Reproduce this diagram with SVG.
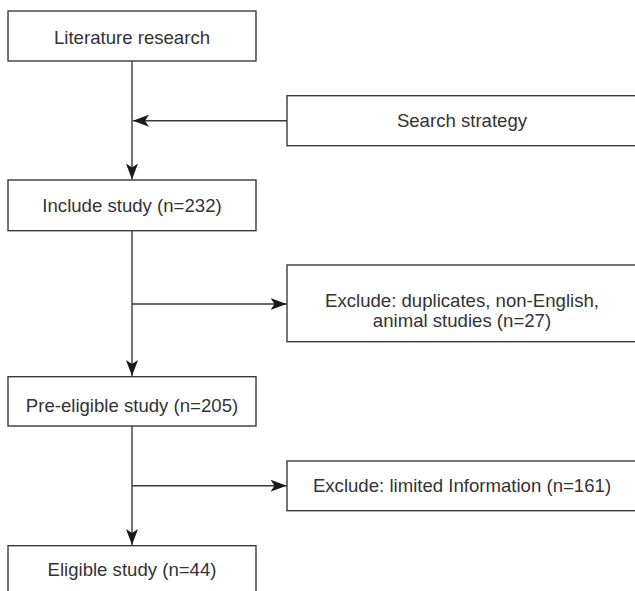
<svg xmlns="http://www.w3.org/2000/svg" width="635" height="591" viewBox="0 0 635 591">
<style>
.box{fill:#fff;stroke:#3a3a3a;stroke-width:1.4}
.t{font-family:"Liberation Sans",Arial,sans-serif;font-size:18.6px;fill:#333;text-anchor:middle}
.ln{fill:none;stroke:#3a3a3a;stroke-width:1.4}
</style>
<defs>
<marker id="ah" markerUnits="userSpaceOnUse" markerWidth="17" markerHeight="12" refX="16" refY="6" orient="auto">
<path d="M0,0 L16,6 L0,12 L4,6 Z" fill="#1a1a1a"/>
</marker>
</defs>
<rect width="635" height="591" fill="#fff"/>
<g id="connectors">
<line class="ln" x1="132" y1="61" x2="132" y2="179.5" marker-end="url(#ah)"/>
<line class="ln" x1="287" y1="120.7" x2="133" y2="120.7" marker-end="url(#ah)"/>
<line class="ln" x1="132" y1="230.7" x2="132" y2="376" marker-end="url(#ah)"/>
<line class="ln" x1="132" y1="304" x2="286.5" y2="304" marker-end="url(#ah)"/>
<line class="ln" x1="132" y1="426" x2="132" y2="545" marker-end="url(#ah)"/>
<line class="ln" x1="132" y1="485.7" x2="286.5" y2="485.7" marker-end="url(#ah)"/>
</g>
<g id="literature">
<rect class="box" x="8" y="11" width="248" height="50"/>
<text class="t" x="132" y="43.5">Literature research</text>
</g>
<g id="search">
<rect class="box" x="287" y="95.7" width="352" height="50"/>
<text class="t" x="462" y="127">Search strategy</text>
</g>
<g id="include">
<rect class="box" x="8" y="180" width="248" height="50.7"/>
<text class="t" x="132" y="211.7">Include study (n=232)</text>
</g>
<g id="exclude1">
<rect class="box" x="287" y="265" width="352" height="76.7"/>
<text class="t" x="462" y="306.7">Exclude: duplicates, non-English,</text>
<text class="t" x="462" y="326.5">animal studies (n=27)</text>
</g>
<g id="preeligible">
<rect class="box" x="8" y="376.7" width="248" height="49.3"/>
<text class="t" x="132" y="411.7">Pre-eligible study (n=205)</text>
</g>
<g id="exclude2">
<rect class="box" x="287" y="461" width="352" height="49.7"/>
<text class="t" x="462" y="492.3">Exclude: limited Information (n=161)</text>
</g>
<g id="eligible">
<rect class="box" x="8" y="545.7" width="248" height="60"/>
<text class="t" x="132" y="576">Eligible study (n=44)</text>
</g>
</svg>
